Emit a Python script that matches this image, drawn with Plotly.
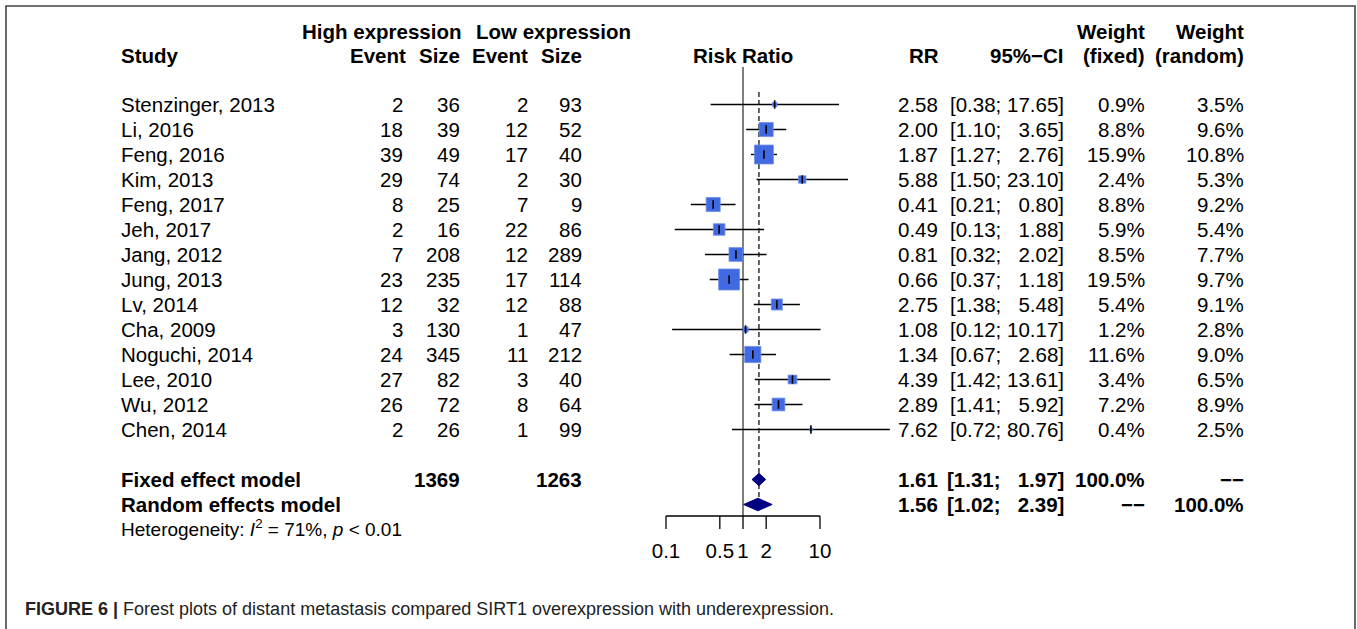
import numpy as np
import plotly.graph_objects as go

# ---------------- data ----------------
studies = ["Stenzinger, 2013", "Li, 2016", "Feng, 2016", "Kim, 2013", "Feng, 2017",
           "Jeh, 2017", "Jang, 2012", "Jung, 2013", "Lv, 2014", "Cha, 2009",
           "Noguchi, 2014", "Lee, 2010", "Wu, 2012", "Chen, 2014"]
ev_high = [2, 18, 39, 29, 8, 2, 7, 23, 12, 3, 24, 27, 26, 2]
n_high = [36, 39, 49, 74, 25, 16, 208, 235, 32, 130, 345, 82, 72, 26]
ev_low = [2, 12, 17, 2, 7, 22, 12, 17, 12, 1, 11, 3, 8, 1]
n_low = [93, 52, 40, 30, 9, 86, 289, 114, 88, 47, 212, 40, 64, 99]
rr = [2.58, 2.00, 1.87, 5.88, 0.41, 0.49, 0.81, 0.66, 2.75, 1.08, 1.34, 4.39, 2.89, 7.62]
ci_lo = [0.38, 1.10, 1.27, 1.50, 0.21, 0.13, 0.32, 0.37, 1.38, 0.12, 0.67, 1.42, 1.41, 0.72]
ci_hi = [17.65, 3.65, 2.76, 23.10, 0.80, 1.88, 2.02, 1.18, 5.48, 10.17, 2.68, 13.61, 5.92, 80.76]
w_fixed = [0.9, 8.8, 15.9, 2.4, 8.8, 5.9, 8.5, 19.5, 5.4, 1.2, 11.6, 3.4, 7.2, 0.4]
w_random = [3.5, 9.6, 10.8, 5.3, 9.2, 5.4, 7.7, 9.7, 9.1, 2.8, 9.0, 6.5, 8.9, 2.5]

fixed_model = {"rr": 1.61, "lo": 1.31, "hi": 1.97}
random_model = {"rr": 1.56, "lo": 1.02, "hi": 2.39}
total_high = 1369
total_low = 1263

tick_vals = [0.1, 0.5, 1, 2, 10]
tick_text = ["0.1", "0.5", "1", "2", "10"]

# ---------------- layout helpers ----------------
W, H = 1357, 629
ROW0, DY = 104.5, 25.0
X_ONE, PX_DEC = 743.0, 77.0
FONT = "Liberation Sans, Arial, sans-serif"
FS = 20.5


def prow(py):
    return (py - ROW0) / DY


def px(x):
    return x / W


n = len(studies)
row_fixed = n + 1
row_random = n + 2
axis_row = prow(516)
FIG = "\u2007"

fig = go.Figure()

# reference line at 1
fig.add_trace(go.Scatter(x=[1, 1], y=[prow(67), axis_row], mode="lines",
                         line=dict(color="#555555", width=1.5), hoverinfo="skip"))
# dashed line at fixed estimate
fig.add_trace(go.Scatter(x=[fixed_model["rr"]] * 2, y=[prow(92), prow(497)], mode="lines",
                         line=dict(color="#333333", width=1.5, dash="5px,3px"), hoverinfo="skip"))

# CI lines
cx, cy = [], []
for i in range(n):
    cx += [ci_lo[i], ci_hi[i], None]
    cy += [i, i, None]
fig.add_trace(go.Scatter(x=cx, y=cy, mode="lines", line=dict(color="black", width=1.4),
                         hoverinfo="skip"))

# squares
K = 4.75
fig.add_trace(go.Scatter(x=rr, y=list(range(n)), mode="markers",
                         marker=dict(symbol="square", size=[K * np.sqrt(w) for w in w_fixed],
                                     color="royalblue", opacity=1,
                                     line=dict(color="#6f8fe8", width=0.8)),
                         hoverinfo="skip"))
# estimate ticks
fig.add_trace(go.Scatter(x=rr, y=list(range(n)), mode="markers",
                         marker=dict(symbol="line-ns", size=6, opacity=1,
                                     line=dict(color="black", width=1.6)),
                         hoverinfo="skip"))

# diamonds
for m, r in [(fixed_model, row_fixed), (random_model, row_random)]:
    fig.add_trace(go.Scatter(x=[m["lo"], m["rr"], m["hi"], m["rr"], m["lo"]],
                             y=[r, r - 0.25, r, r + 0.25, r], mode="lines", fill="toself",
                             fillcolor="navy", line=dict(color="navy", width=1),
                             hoverinfo="skip"))

# axis
ax_x, ax_y = [tick_vals[0], tick_vals[-1], None], [axis_row, axis_row, None]
for tv in tick_vals:
    ax_x += [tv, tv, None]
    ax_y += [axis_row, axis_row + 0.52, None]
fig.add_trace(go.Scatter(x=ax_x, y=ax_y, mode="lines", line=dict(color="black", width=1.3),
                         hoverinfo="skip"))
fig.add_trace(go.Scatter(x=tick_vals, y=[prow(553)] * len(tick_vals), mode="text",
                         text=tick_text, textfont=dict(family=FONT, size=FS, color="black"),
                         textposition="middle center", hoverinfo="skip"))

# ---------------- text table ----------------
annotations = []


def ann(text, xpx, row, anchor="right", bold=False, size=FS, color="black", yref="y"):
    if bold:
        text = "<b>" + text + "</b>"
    annotations.append(dict(text=text, x=px(xpx), y=row, xref="paper", yref=yref,
                            xanchor=anchor, yanchor="middle", showarrow=False,
                            font=dict(family=FONT, size=size, color=color)))


# headers
h1, h2 = prow(31), prow(55)
ann("High expression", 300, h1, "left", True)
ann("Low expression", 474, h1, "left", True)
ann("Study", 119, h2, "left", True)
ann("Event", 408, h2, "right", True)
ann("Size", 462, h2, "right", True)
ann("Event", 530, h2, "right", True)
ann("Size", 584, h2, "right", True)
ann("Risk Ratio", 743, h2, "center", True)
ann("RR", 941, h2, "right", True)
ann("95%\u2212CI", 1066, h2, "right", True)
ann("Weight", 1147, h1, "right", True)
ann("(fixed)", 1147, h2, "right", True)
ann("Weight", 1246, h1, "right", True)
ann("(random)", 1246, h2, "right", True)


def fmt_ci(lo, hi):
    s = f"{hi:.2f}"
    s = FIG * (5 - len(s)) + s
    return f"[{lo:.2f}; {s}]"


for i in range(n):
    ann(studies[i], 119, i, "left")
    ann(str(ev_high[i]), 405, i)
    ann(str(n_high[i]), 462, i)
    ann(str(ev_low[i]), 530, i)
    ann(str(n_low[i]), 584, i)
    ann(f"{rr[i]:.2f}", 940, i)
    ann(fmt_ci(ci_lo[i], ci_hi[i]), 1066, i)
    ann(f"{w_fixed[i]:.1f}%", 1147, i)
    ann(f"{w_random[i]:.1f}%", 1246, i)

ann("Fixed effect model", 119, row_fixed, "left", True)
ann(str(total_high), 462, row_fixed, "right", True)
ann(str(total_low), 584, row_fixed, "right", True)
ann(f"{fixed_model['rr']:.2f}", 940, row_fixed, "right", True)
ann(fmt_ci(fixed_model["lo"], fixed_model["hi"]), 1066, row_fixed, "right", True)
ann("100.0%", 1147, row_fixed, "right", True)
ann("\u2212\u2212", 1246, row_fixed, "right", True)

ann("Random effects model", 119, row_random, "left", True)
ann(f"{random_model['rr']:.2f}", 940, row_random, "right", True)
ann(fmt_ci(random_model["lo"], random_model["hi"]), 1066, row_random, "right", True)
ann("\u2212\u2212", 1147, row_random, "right", True)
ann("100.0%", 1246, row_random, "right", True)

ann("Heterogeneity: <i>I</i><sup>2</sup> = 71%, <i>p</i> < 0.01", 119, prow(528), "left",
    False, 19)

# caption
ann("<b>FIGURE 6 |</b> Forest plots of distant metastasis compared SIRT1 overexpression "
    "with underexpression.", 23, prow(609), "left", False, 18, "#222222")

fig.update_layout(
    width=W, height=H, margin=dict(l=0, r=0, t=0, b=0),
    paper_bgcolor="white", plot_bgcolor="white", showlegend=False,
    xaxis=dict(type="log", domain=[0, 1], range=[-X_ONE / PX_DEC, (W - X_ONE) / PX_DEC],
               visible=False, fixedrange=True),
    yaxis=dict(domain=[0, 1], range=[prow(H), prow(0)], visible=False, fixedrange=True),
    annotations=annotations,
    shapes=[dict(type="rect", xref="paper", yref="paper", x0=px(6), x1=px(1355),
                 y0=-0.05, y1=1 - 6 / H, line=dict(color="#444444", width=1.6),
                 fillcolor="rgba(0,0,0,0)", layer="below")],
)

fig.write_html("out.html")
